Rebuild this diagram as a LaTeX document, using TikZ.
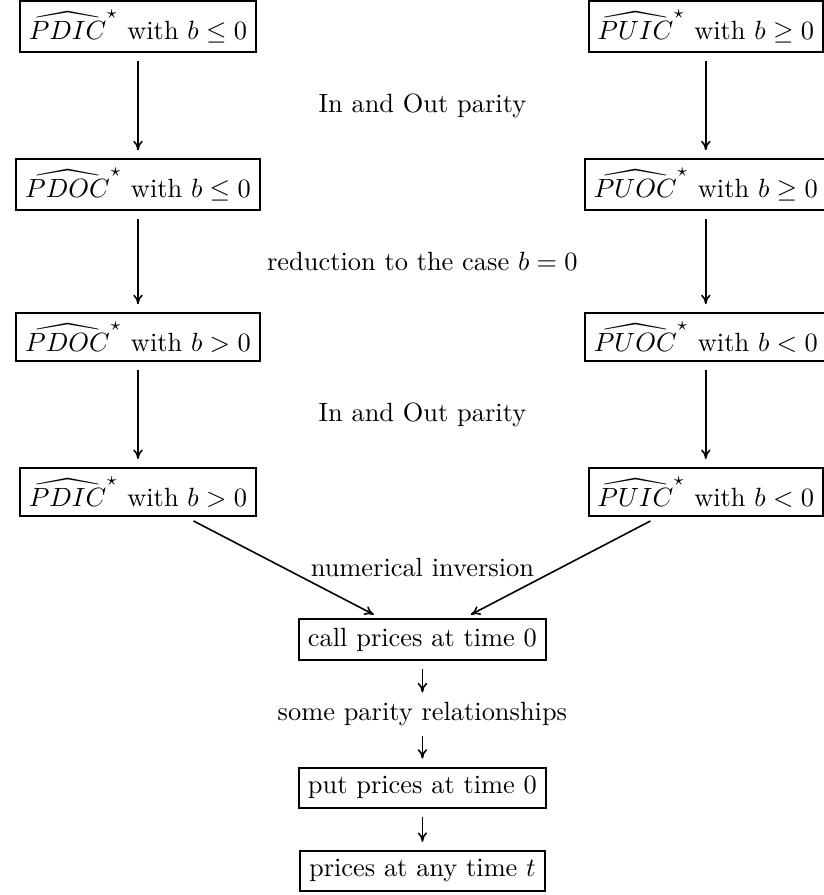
\documentclass[tikz,border=0pt]{standalone}
\usepackage{amsmath}
\usepackage{amssymb}
\usepackage{xcolor}
\usetikzlibrary{arrows.meta}
\tikzset{box/.style={draw=black, thick}, link/.style={black, semithick, -{To[length=3.6pt,width=3.6pt]}, shorten >=3pt, shorten <=3pt}}

\begin{document}
\begin{tikzpicture}
\useasboundingbox (0,0) rectangle (10.97,-11.92);
% left column
\node[box] (pdicle) at (1.838,-0.355) {$\widehat{PDIC}^{\star}$ with $b\leq 0$};
\node[box] (pdocle) at (1.838,-2.459) {$\widehat{PDOC}^{\star}$ with $b\leq 0$};
\node[box] (pdocgt) at (1.838,-4.492) {$\widehat{PDOC}^{\star}$ with $b>0$};
\node[box] (pdicgt) at (1.838,-6.554) {$\widehat{PDIC}^{\star}$ with $b>0$};
% right column
\node[box] (puicge) at (9.40,-0.355) {$\widehat{PUIC}^{\star}$ with $b\geq 0$};
\node[box] (puocge) at (9.40,-2.459) {$\widehat{PUOC}^{\star}$ with $b\geq 0$};
\node[box] (puoclt) at (9.40,-4.492) {$\widehat{PUOC}^{\star}$ with $b<0$};
\node[box] (puiclt) at (9.40,-6.554) {$\widehat{PUIC}^{\star}$ with $b<0$};
% middle
\node (parityA) at (5.626,-1.407) {In and Out parity};
\node (reduct) at (5.626,-3.476) {reduction to the case $b=0$};
\node (parityB) at (5.626,-5.523) {In and Out parity};
\node (numinv) at (5.626,-7.56) {numerical inversion};
\node[box] (call) at (5.626,-8.522) {call prices at time $0$};
\node[inner sep=0.5pt] (relat) at (5.626,-9.51) {some parity relationships};
\node[box] (put) at (5.626,-10.49) {put prices at time $0$};
\node[box] (anyt) at (5.626,-11.60) {prices at any time $t$};

\draw[link] (pdicle) -- (pdocle);
\draw[link] (pdocle) -- (pdocgt);
\draw[link] (pdocgt) -- (pdicgt);
\draw[link] (puicge) -- (puocge);
\draw[link] (puocge) -- (puoclt);
\draw[link] (puoclt) -- (puiclt);
\draw[link] (pdicgt) -- (call);
\draw[link] (puiclt) -- (call);
\draw[link] (call) -- (relat);
\draw[link] (relat) -- (put);
\draw[link] (put) -- (anyt);
\end{tikzpicture}
\end{document}
